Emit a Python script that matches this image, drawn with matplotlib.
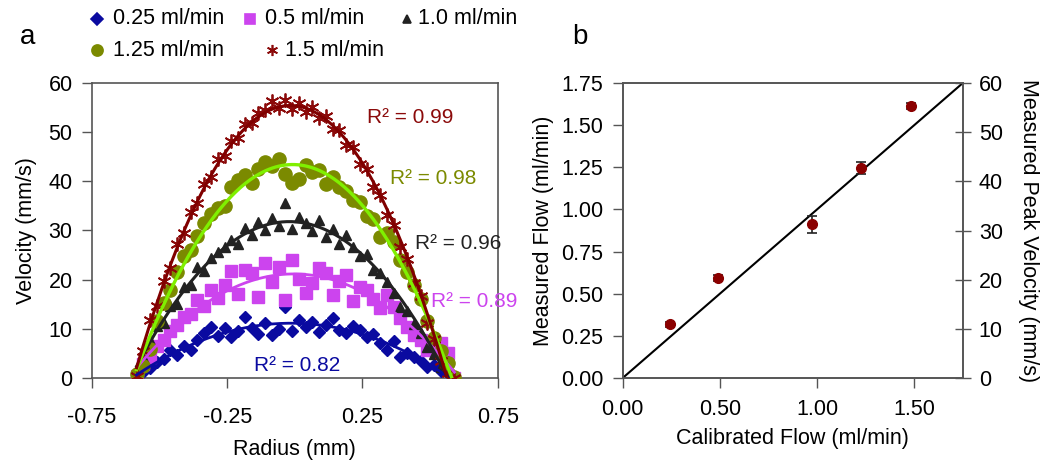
import numpy as np
import matplotlib
matplotlib.use('Agg')
import matplotlib.pyplot as plt
from matplotlib.lines import Line2D

plt.rcParams['font.family'] = ['Liberation Sans', 'DejaVu Sans']

# panel a : velocity profiles across the channel
radius = [-0.585, -0.56, -0.535, -0.51, -0.485, -0.46, -0.435, -0.41, -0.385, -0.36,
          -0.335, -0.31, -0.285, -0.26, -0.235, -0.21, -0.185, -0.16, -0.135, -0.11,
          -0.085, -0.06, -0.035, -0.01, 0.015, 0.04, 0.065, 0.09, 0.115, 0.14,
          0.165, 0.19, 0.215, 0.24, 0.265, 0.29, 0.315, 0.34, 0.365, 0.39,
          0.415, 0.44, 0.465, 0.49, 0.515, 0.54, 0.565, 0.59]

v_025 = [0.0, 1.2, 2.0, 3.2, 3.8, 5.7, 4.6, 6.5, 5.7, 7.8, 9.2, 10.4, 8.6, 10.1, 8.3, 9.5,
         12.4, 10.2, 9.0, 11.2, 8.7, 10.0, 14.4, 9.6, 11.8, 10.3, 11.4, 9.3, 10.8, 12.2,
         9.7, 9.1, 10.5, 9.7, 8.4, 8.9, 7.1, 5.7, 7.6, 4.3, 5.0, 4.3, 3.4, 2.2, 2.6, 1.4,
         1.0, 0.0]
v_05 = [0.5, 2.8, 4.2, 6.5, 7.7, 9.5, 10.8, 12.4, 13.0, 15.9, 14.6, 17.9, 16.2, 19.0, 21.8,
        17.0, 22.0, 21.4, 16.5, 23.4, 19.6, 22.6, 15.9, 24.0, 20.2, 17.2, 19.3, 22.4, 21.4,
        16.8, 19.8, 21.0, 15.6, 18.6, 17.9, 16.0, 14.2, 16.8, 14.4, 12.2, 10.4, 8.8, 7.7,
        5.7, 6.4, 7.1, 5.0, 0.0]
v_10 = [1.0, 4.2, 7.8, 10.5, 11.2, 14.6, 15.0, 18.5, 19.0, 22.6, 21.8, 24.5, 25.6, 26.6,
        28.0, 27.2, 30.5, 29.0, 31.8, 30.2, 32.6, 31.0, 35.5, 30.4, 32.8, 31.6, 29.8, 32.2,
        28.6, 30.4, 27.2, 29.0, 26.6, 24.8, 25.2, 22.0, 21.4, 19.6, 17.2, 14.4, 13.6, 11.0,
        9.2, 6.3, 4.8, 2.2, 3.5, 0.0]
v_125 = [0.8, 2.5, 6.0, 11.5, 15.2, 18.0, 21.5, 24.8, 26.0, 28.9, 31.5, 33.4, 34.6, 35.0,
         38.8, 40.3, 41.2, 39.6, 42.5, 44.0, 43.1, 44.6, 41.5, 39.7, 40.4, 43.4, 41.9, 42.3,
         39.5, 40.8, 38.8, 38.0, 36.2, 35.7, 33.0, 32.4, 28.6, 29.5, 27.6, 24.0, 21.5, 19.0,
         16.0, 11.5, 8.2, 5.5, 3.0, 0.3]
v_15 = [0.5, 5.5, 11.8, 14.6, 19.8, 22.4, 27.3, 29.5, 33.8, 35.6, 39.5, 40.8, 44.5, 45.2,
        48.3, 48.9, 51.6, 51.8, 53.9, 54.6, 56.3, 55.0, 56.6, 54.7, 55.9, 54.2, 55.1, 52.9,
        53.2, 50.6, 50.4, 47.4, 46.9, 43.6, 42.6, 38.8, 37.3, 33.1, 31.2, 26.7, 24.3, 19.4,
        16.6, 11.2, 8.0, 3.5, 1.0, 0.0]

labels_a = ['0.25 ml/min', '0.5 ml/min', '1.0 ml/min', '1.25 ml/min', '1.5 ml/min']
r2_text = ['R² = 0.82', 'R² = 0.89', 'R² = 0.96', 'R² = 0.98', 'R² = 0.99']

# panel b : calibration
calib = [0.245, 0.49, 0.975, 1.225, 1.485]
measured = [0.32, 0.593, 0.913, 1.246, 1.614]
meas_err = [0.015, 0.02, 0.05, 0.035, 0.02]

FS = 15.5
fig = plt.figure(figsize=(10.5, 4.61), dpi=100)
ax = fig.add_axes([0.0876, 0.180, 0.3864, 0.640])
axb = fig.add_axes([0.593, 0.180, 0.324, 0.640])

series = [v_025, v_05, v_10, v_125, v_15]
mcol = ['#0a0aa0', '#cc44ee', '#222222', '#7b8a00', '#8b0a0a']
lcol = ['#0a0aa0', '#cc44ee', '#222222', '#80f000', '#800000']
mk = ['D', 's', '^', 'o', (6, 2, 0)]
ms = [6.5, 8.5, 6.5, 9.5, 10]
lw = [2.0, 2.0, 2.2, 2.4, 2.2]
r2_pos = [(-0.15, 2.6), (0.505, 15.5), (0.446, 27.3), (0.35, 40.5), (0.268, 52.9)]

x = np.array(radius)
for i, y in enumerate(series):
    ax.plot(x, y, ls='none', marker=mk[i], ms=ms[i], color=mcol[i], mec=mcol[i],
            mew=1.3 if i == 4 else 1.0, zorder=3)

xf = np.linspace(x.min(), x.max(), 200)
for i, y in enumerate(series):
    c = np.polyfit(x, y, 2)
    ax.plot(xf, np.polyval(c, xf), color=lcol[i], lw=lw[i], zorder=4)
    ax.text(r2_pos[i][0], r2_pos[i][1], r2_text[i], color=mcol[i],
            fontsize=15, va='center', ha='left', zorder=5)

ax.set_xlim(-0.75, 0.75)
ax.set_ylim(0, 60)
ax.set_xticks([-0.75, -0.25, 0.25, 0.75])
ax.set_xticklabels(['-0.75', '-0.25', '0.25', '0.75'])
ax.set_yticks(range(0, 61, 10))
ax.set_xlabel('Radius (mm)', fontsize=FS, labelpad=8)
ax.set_ylabel('Velocity (mm/s)', fontsize=FS, labelpad=8)
ax.tick_params(axis='x', pad=14)

# legend drawn by hand, two rows like the original
leg_mk = [(97, 19), (250, 19), (407, 19), (97, 50), (272, 50)]
leg_tx = [113, 265, 418, 113, 285]
leg_ms = [6, 7, 5.5, 8, 8]
for i in range(5):
    px, py = leg_mk[i]
    fig.add_artist(Line2D([px / 1050], [1 - py / 461], transform=fig.transFigure,
                          ls='none', marker=mk[i], ms=leg_ms[i], color=mcol[i],
                          mec=mcol[i], mew=1.2))
    fig.text(leg_tx[i] / 1050, 1 - py / 461, labels_a[i], fontsize=FS, va='center', ha='left')

# panel b
axb.plot([0, 1.75], [0, 1.75], color='black', lw=1.5, zorder=2)
axb.errorbar(calib, measured, yerr=meas_err, fmt='o', color='#8b0000', ms=7,
             ecolor='#222222', elinewidth=1.2, capsize=3.5, capthick=1.2, zorder=3)
axb.set_xlim(0, 1.75)
axb.set_ylim(0, 1.75)
axb.set_xticks([0, 0.5, 1.0, 1.5])
axb.set_xticklabels(['0.00', '0.50', '1.00', '1.50'])
axb.set_yticks(np.arange(0, 1.76, 0.25))
axb.set_yticklabels(['%.2f' % v for v in np.arange(0, 1.76, 0.25)])
axb.set_xlabel('Calibrated Flow (ml/min)', fontsize=FS, labelpad=6)
axb.set_ylabel('Measured Flow (ml/min)', fontsize=FS, labelpad=5)
axb.tick_params(axis='x', pad=8)

axr = axb.twinx()
axr.set_ylim(0, 60)
axr.set_yticks(range(0, 61, 10))
axr.set_ylabel('Measured Peak Velocity (mm/s)', fontsize=FS, rotation=270, labelpad=26)

for a in (ax, axb, axr):
    for s in a.spines.values():
        s.set_color('#555555')
        s.set_linewidth(1.2)
for a in (ax, axb):
    a.tick_params(direction='out', length=7, width=1, labelsize=FS, color='#555555')
    a.tick_params(axis='y', pad=7)
axr.tick_params(axis='y', direction='inout', length=11, width=1, labelsize=FS,
                color='#555555', pad=6)

fig.text(0.019, 0.905, 'a', fontsize=20)
fig.text(0.545, 0.905, 'b', fontsize=20)

fig.savefig('out.png', dpi=100)
